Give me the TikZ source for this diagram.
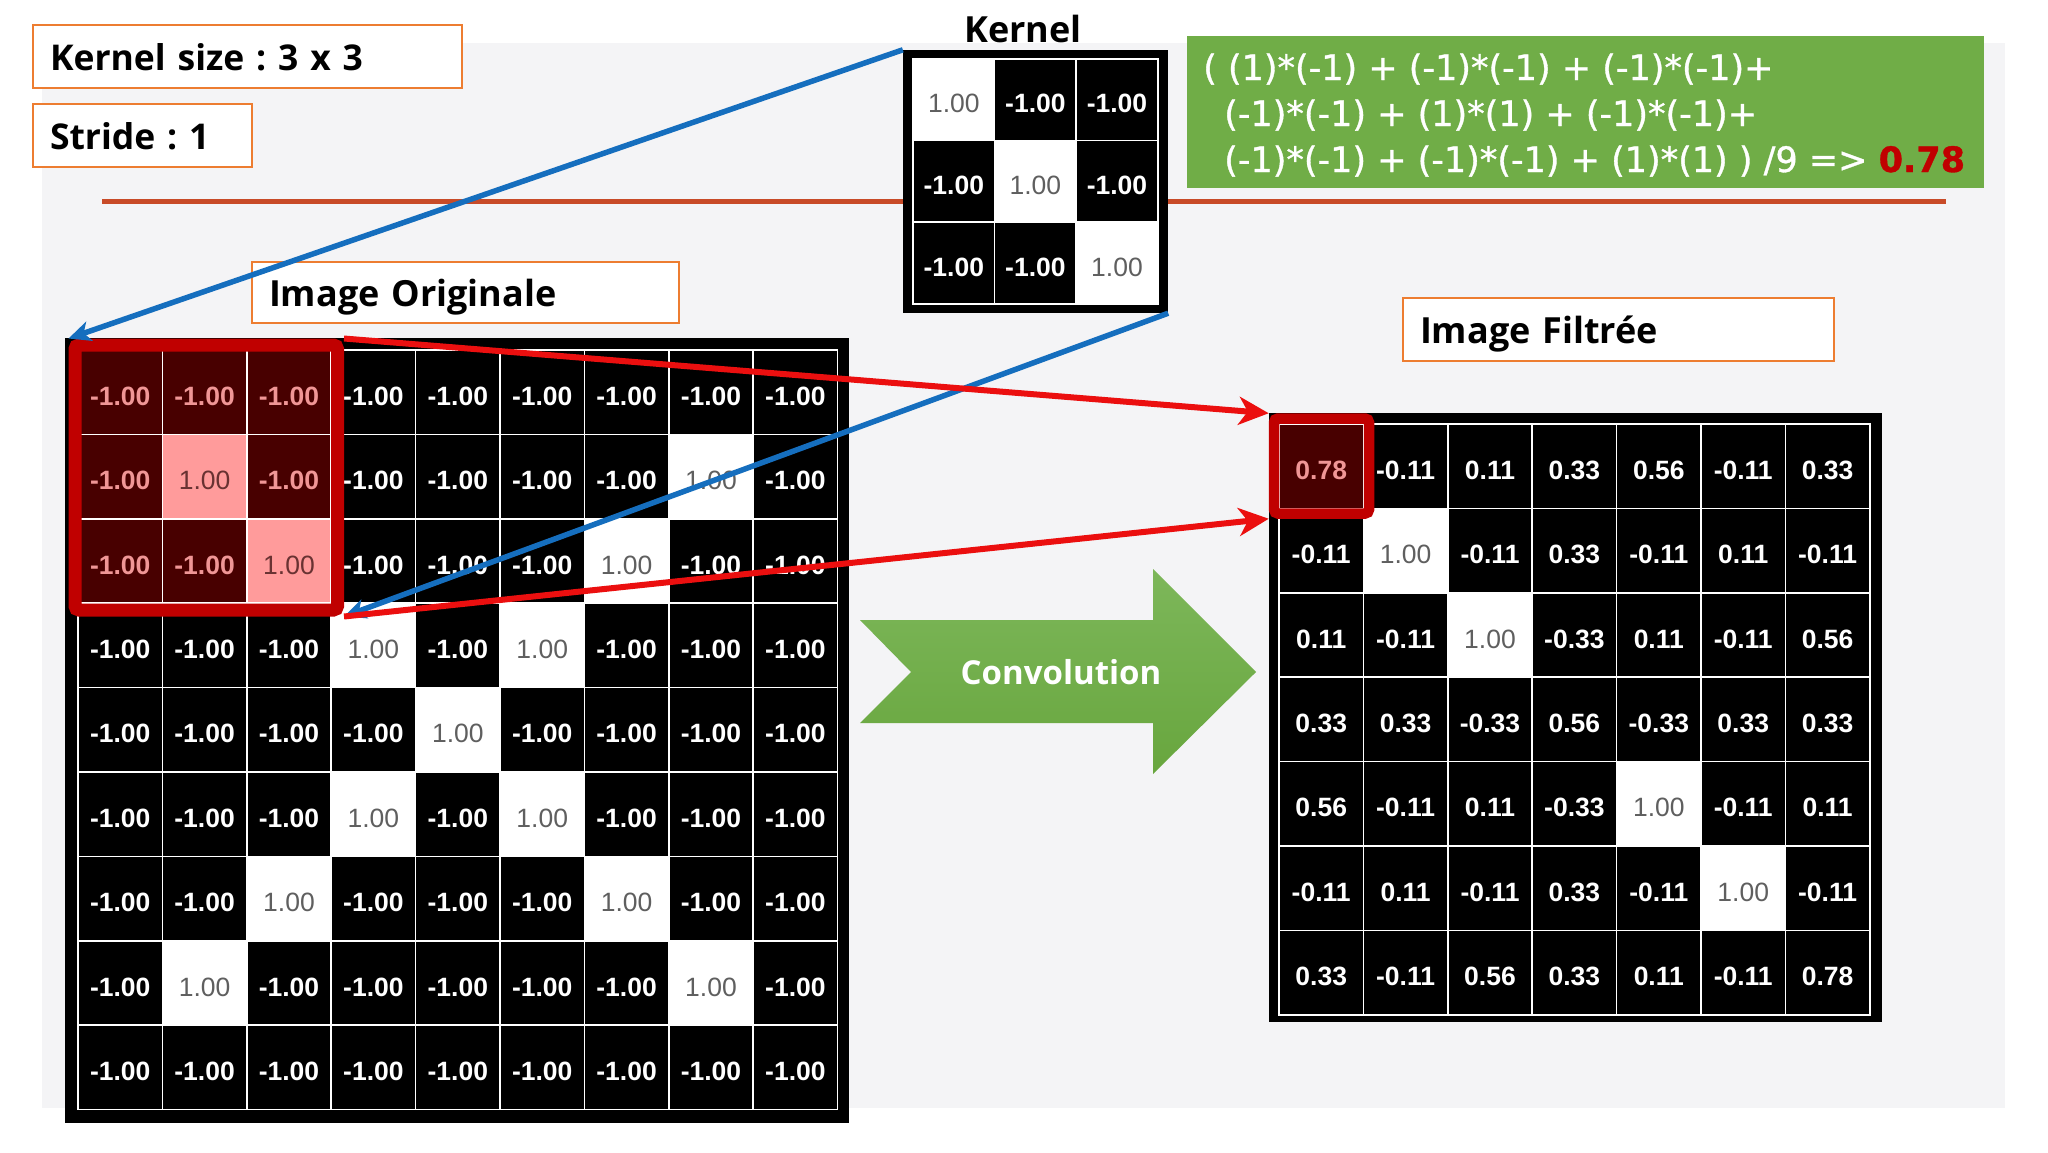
\documentclass[tikz,border=0pt]{standalone}
\usepackage{fontspec}
\setmainfont{Open Sans}
\newfontfamily\numfont{Liberation Sans}
\newfontfamily\formfont[FakeBold=1]{DejaVu Sans}
\usetikzlibrary{arrows.meta}
\frenchspacing
\definecolor{panelgray}{RGB}{244,244,246}
\definecolor{sepline}{RGB}{200,75,40}
\definecolor{boxorange}{RGB}{237,125,49}
\definecolor{formgreen}{RGB}{112,173,71}
\definecolor{convtop}{RGB}{125,183,90}
\definecolor{convbot}{RGB}{104,166,62}
\definecolor{hlred}{RGB}{192,0,0}
\definecolor{arrred}{RGB}{235,15,15}
\definecolor{arrblue}{RGB}{21,110,190}
\definecolor{darkcell}{RGB}{72,0,0}
\definecolor{pinkcell}{RGB}{255,155,155}
\definecolor{pinktext}{RGB}{240,150,150}
\definecolor{darkpinktext}{RGB}{105,50,50}
\definecolor{graytext}{RGB}{95,95,95}
\tikzset{
  numb/.style={font=\numfont\bfseries\fontsize{26.5}{30}\selectfont},
  numr/.style={font=\numfont\fontsize{26.5}{30}\selectfont},
  cell/.style={rectangle, inner sep=0pt, minimum width=84.4pt, minimum height=84.4pt, draw=white, line width=1.6pt, text height=26pt, text depth=0pt},
  c0/.style={fill=black, text=white, numb},
  c1/.style={fill=white, text=graytext, numr},
  c2/.style={fill=darkcell, text=pinktext, numb},
  c3/.style={fill=pinkcell, text=darkpinktext, numr},
  kcell/.style={cell, minimum width=81.6pt, minimum height=81.6pt},
  gridframe/.style={rectangle, inner sep=0pt, fill=black},
  labelbox/.style={rectangle, draw=boxorange, line width=2pt, fill=white, inner xsep=17pt, inner ysep=0pt, minimum height=63pt, text height=27pt, text depth=0pt, align=left, font=\bfseries\fontsize{36}{44}\selectfont, anchor=west},
  hlbox/.style={rectangle, draw=hlred, rounded corners=4pt, inner sep=0pt},
  redarrow/.style={draw=arrred, line width=6pt, -{Stealth[length=30pt,width=28pt,inset=9pt]}},
  bluearrow/.style={draw=arrblue, line width=5.5pt, -{Stealth[length=22pt,width=20pt,inset=6pt]}},
  formline/.style={text=white, font=\formfont\fontsize{35}{46}\selectfont, anchor=base west, inner sep=0pt},
}
\begin{document}
\begin{tikzpicture}[x=1pt, y=-1pt]
\useasboundingbox (0,0) rectangle (2048,1152);
\fill[white] (0,0) rectangle (2048,1152);
\fill[panelgray] (42,43) rectangle (2005,1108);

% separator line
\coordinate (sl1) at (102,201);
\coordinate (sl2) at (1946,201);
\draw[sepline, line width=5pt] (sl1) -- (sl2);

% label boxes
\node[labelbox, text width=395pt, font=\bfseries\fontsize{35.5}{44}\selectfont] (ks) at (32,56.5) {Kernel size : 3 x 3};
\node[labelbox, text width=185pt, font=\bfseries\fontsize{35.5}{44}\selectfont] (st) at (32,135.5) {Stride : 1};
\node[labelbox, text width=393pt, minimum height=61pt] (io) at (251,292.5) {Image Originale};
\node[labelbox, text width=397pt] (ifl) at (1402,329.5) {Image Filtrée};

% kernel
\node[font=\bfseries\fontsize{36}{44}\selectfont, anchor=base, inner sep=0pt] (klab) at (1023,42) {Kernel};
\node[gridframe, minimum width=265pt, minimum height=263pt] (kf) at (1035.5,181.5) {};
\foreach \rowlist [count=\r] in {{1,0,0},{0,1,0},{0,0,1}}{
  \foreach \v [count=\c] in \rowlist {
    \ifnum\v=1 \def\txt{1.00}\else\def\txt{-1.00}\fi
    \node[kcell, c\v] (k-\r-\c) at ({913+(\c-0.5)*81.6},{59+(\r-0.5)*81.6}) {\txt};
  }
}

% formula
\node[rectangle, fill=formgreen, inner sep=0pt, minimum width=797pt, minimum height=152pt] (gb) at (1585.5,112) {};
\node[formline] (fl1) at (1203,80) {( (1)*(-1) + (-1)*(-1) + (-1)*(-1)+};
\node[formline] (fl2) at (1224,126) {(-1)*(-1) + (1)*(1) + (-1)*(-1)+};
\node[formline] (fl3) at (1224,172) {(-1)*(-1) + (-1)*(-1) + (1)*(1) ) /9 => {\bfseries\color{hlred}0.78}};

% original image
\node[gridframe, minimum width=784pt, minimum height=785pt] (of) at (457,730.5) {};
\foreach \rowlist [count=\r] in {
 {2,2,2,0,0,0,0,0,0},
 {2,3,2,0,0,0,0,1,0},
 {2,2,3,0,0,0,1,0,0},
 {0,0,0,1,0,1,0,0,0},
 {0,0,0,0,1,0,0,0,0},
 {0,0,0,1,0,1,0,0,0},
 {0,0,1,0,0,0,1,0,0},
 {0,1,0,0,0,0,0,1,0},
 {0,0,0,0,0,0,0,0,0}}{
  \foreach \v [count=\c] in \rowlist {
    \ifnum\v=1 \def\txt{1.00}\else\ifnum\v=3 \def\txt{1.00}\else\def\txt{-1.00}\fi\fi
    \node[cell, c\v] (o-\r-\c) at ({78+(\c-0.5)*84.4},{350+(\r-0.5)*84.4}) {\txt};
  }
}
\node[hlbox, line width=13pt, minimum width=262.5pt, minimum height=265pt] (orr) at (206.25,477.5) {};

% filtered image
\node[gridframe, minimum width=613pt, minimum height=609pt] (ff) at (1575.5,717.5) {};
\foreach \rowlist [count=\r] in {
 {0.78/2,-0.11/0,0.11/0,0.33/0,0.56/0,-0.11/0,0.33/0},
 {-0.11/0,1.00/1,-0.11/0,0.33/0,-0.11/0,0.11/0,-0.11/0},
 {0.11/0,-0.11/0,1.00/1,-0.33/0,0.11/0,-0.11/0,0.56/0},
 {0.33/0,0.33/0,-0.33/0,0.56/0,-0.33/0,0.33/0,0.33/0},
 {0.56/0,-0.11/0,0.11/0,-0.33/0,1.00/1,-0.11/0,0.11/0},
 {-0.11/0,0.11/0,-0.11/0,0.33/0,-0.11/0,1.00/1,-0.11/0},
 {0.33/0,-0.11/0,0.56/0,0.33/0,0.11/0,-0.11/0,0.78/0}}{
  \foreach \t/\s [count=\c] in \rowlist {
    \node[cell, c\s] (f-\r-\c) at ({1279+(\c-0.5)*84.4},{424+(\r-0.5)*84.4}) {\t};
  }
}
\node[hlbox, line width=10.5pt, minimum width=95pt, minimum height=95pt] (frr) at (1321.5,466) {};

% convolution arrow
\shade[top color=convtop, bottom color=convbot] (860,620) -- (911,672) -- (860,723) -- (1153,723) -- (1153,774) -- (1256,672) -- (1153,569) -- (1153,620) -- cycle;
\node[text=white, font=\bfseries\fontsize{33}{40}\selectfont] (conv) at (1061,672) {Convolution};

% connectors
\draw[bluearrow] (kf.north west) -- (orr.north west);
\draw[bluearrow] (kf.south east) -- (orr.south east);
\draw[redarrow] (orr.north east) -- (frr.north west);
\draw[redarrow] (orr.south east) -- (frr.south west);
\end{tikzpicture}
\end{document}
